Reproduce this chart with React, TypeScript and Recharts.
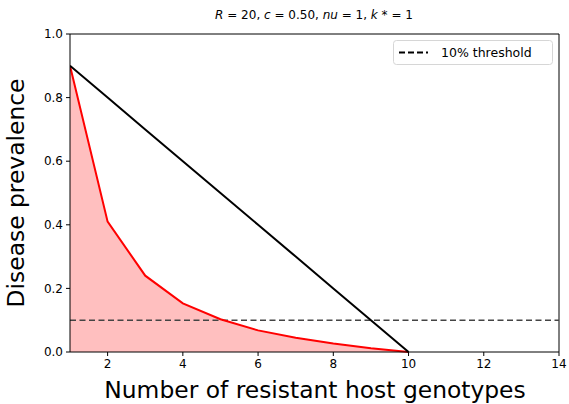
import React from "react";
import { ComposedChart, Line, Area, XAxis, YAxis, ReferenceLine } from "recharts";

const genotypes = [1, 2, 3, 4, 5, 6, 7, 8, 9, 10];
const prevalenceRed = [0.9, 0.41, 0.24, 0.153, 0.103, 0.068, 0.045, 0.027, 0.012, 0];
const prevalenceBlack = [0.9, 0.8, 0.7, 0.6, 0.5, 0.4, 0.3, 0.2, 0.1, 0];
const xTicks = [2, 4, 6, 8, 10, 12, 14];
const yTicks = [0, 0.2, 0.4, 0.6, 0.8, 1.0];
const threshold = 0.1;
const thresholdLabel = "10% threshold";
const xTitle = "Number of resistant host genotypes";
const yTitle = "Disease prevalence";

const data = genotypes.map((g, i) => ({ g, red: prevalenceRed[i], black: prevalenceBlack[i] }));

const FONT = "DejaVu Sans, sans-serif";

export default function App() {
  return (
    <div style={{ position: "absolute", left: 0, top: 0, width: 569, height: 404, background: "#fff" }}>
      <ComposedChart
        width={569}
        height={404}
        data={data}
        margin={{ top: 34, right: 10, bottom: 0, left: 0 }}
      >
        <text x={314} y={19} textAnchor="middle" fontFamily={FONT} fontSize={12} fill="#000">
          <tspan fontStyle="italic">R</tspan>
          <tspan> = 20, </tspan>
          <tspan fontStyle="italic">c</tspan>
          <tspan> = 0.50, </tspan>
          <tspan fontStyle="italic">nu</tspan>
          <tspan> = 1, </tspan>
          <tspan fontStyle="italic">k</tspan>
          <tspan> * = 1</tspan>
        </text>
        <text x={315} y={398} textAnchor="middle" fontFamily={FONT} fontSize={23.4} fill="#000">
          {xTitle}
        </text>
        <text
          x={0}
          y={0}
          transform="translate(24 193) rotate(-90)"
          textAnchor="middle"
          fontFamily={FONT}
          fontSize={23.4}
          fill="#000"
        >
          {yTitle}
        </text>
        <XAxis
          dataKey="g"
          type="number"
          domain={[1, 14]}
          ticks={xTicks}
          allowDataOverflow
          height={52}
          tickLine={{ stroke: "#000", strokeWidth: 1 }}
          axisLine={{ stroke: "#000", strokeWidth: 1 }}
          tickSize={4}
          tickMargin={3}
          tick={{ fontFamily: FONT, fontSize: 12, fill: "#000" }}
        />
        <YAxis
          type="number"
          domain={[0, 1]}
          ticks={yTicks}
          width={70}
          tickFormatter={(v: number) => v.toFixed(1)}
          tickLine={{ stroke: "#000", strokeWidth: 1 }}
          axisLine={{ stroke: "#000", strokeWidth: 1 }}
          tickSize={4}
          tickMargin={3}
          tick={{ fontFamily: FONT, fontSize: 12, fill: "#000" }}
        />
        <Area
          dataKey="red"
          type="linear"
          stroke="none"
          fill="#ffbfbf"
          fillOpacity={1}
          isAnimationActive={false}
        />
        <ReferenceLine y={1} stroke="#000" strokeWidth={1} />
        <ReferenceLine x={14} stroke="#000" strokeWidth={1} />
        <ReferenceLine y={threshold} stroke="#444" strokeWidth={1.5} strokeDasharray="6 3.5" />
        <Line dataKey="red" type="linear" stroke="#ff0000" strokeWidth={2} dot={false} isAnimationActive={false} />
        <Line dataKey="black" type="linear" stroke="#000" strokeWidth={2} dot={false} isAnimationActive={false} />
        <g>
          <rect x={393.5} y={40.5} width={159} height={24} rx={3} ry={3} fill="#fff" fillOpacity={0.8} stroke="#d6d6d6" strokeWidth={1} />
          <line x1={399} y1={52.5} x2={428} y2={52.5} stroke="#000" strokeWidth={2} strokeDasharray="6 3" />
          <text x={441} y={57} fontFamily={FONT} fontSize={12.5} fill="#000">
            {thresholdLabel}
          </text>
        </g>
      </ComposedChart>
    </div>
  );
}
